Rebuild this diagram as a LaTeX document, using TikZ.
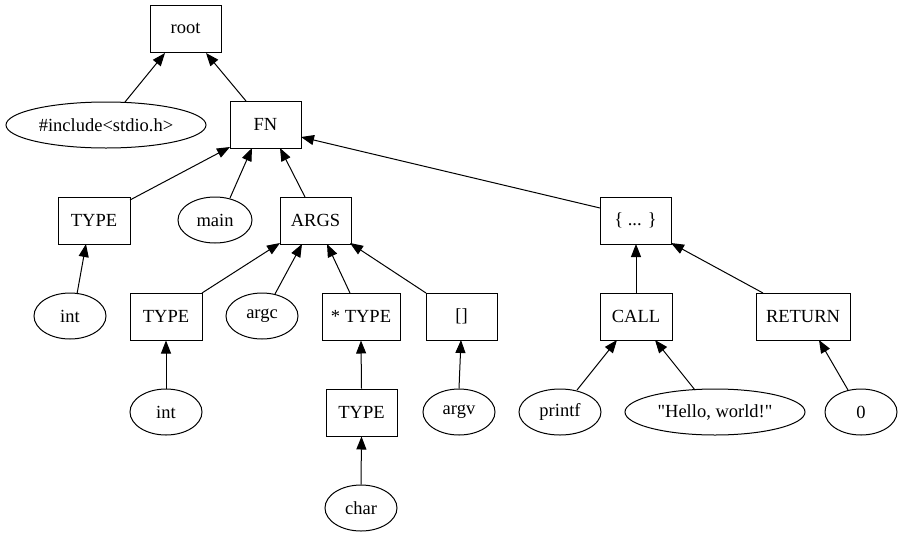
\documentclass[tikz,border=0pt]{standalone}
\usepackage{fontspec}
\setmainfont{Liberation Serif}[Ligatures=TeXOff]
\usetikzlibrary{shapes.geometric,arrows.meta,calc}
\begin{document}
\begin{tikzpicture}[x=1pt,y=-1pt,
  every node/.style={font=\fontsize{18.5}{20}\selectfont, inner sep=0pt, line width=1pt},
  box/.style={draw, rectangle, minimum height=47pt, minimum width=71pt},
  oval/.style={draw, ellipse, minimum height=46pt, minimum width=72pt},
  edge/.style={line width=1pt, -{Triangle[length=13pt,width=10pt]}}]
\useasboundingbox[fill=white] (0,0) rectangle (903,539);
\node[box] (root) at (185.5,28.5) {root};
\node[oval, minimum width=200pt] (inc) at (106,125) {\#include<stdio.h>};
\node[box] (fn) at (265.5,124.5) {FN};
\node[box, minimum width=72pt] (type1) at (94,220.5) {TYPE};
\node[oval, minimum width=74pt] (main) at (215,220) {main};
\node[box] (args) at (315.5,220.5) {ARGS};
\node[box] (body) at (635.5,220.5) {\{ ... \}};
\node[oval] (int1) at (70,316) {int};
\node[box, minimum width=72pt] (type2) at (166,316.5) {TYPE};
\node[oval] (argc) at (262,316) {argc};
\node[box, minimum width=78pt] (ptype) at (361,316.5) {* TYPE};
\node[box] (arr) at (461.5,316.5) {[]};
\node[box, minimum width=72pt] (call) at (636,316.5) {CALL};
\node[box, minimum width=94pt] (ret) at (803,316.5) {RETURN};
\node[oval] (int2) at (166,412) {int};
\node[box] (type3) at (361.5,412.5) {TYPE};
\node[oval] (argv) at (459,412) {argv};
\node[oval, minimum width=82pt] (printf) at (560,412) {printf};
\node[oval, minimum width=180pt] (hello) at (715,412) {"Hello, world!"};
\node[oval] (zero) at (861,412) {0};
\node[oval] (char) at (361,508) {char};

\draw[edge] ($(inc)+(19,-23)$) -- ($(root)+(-20.5,24.5)$);
\draw[edge] ($(fn)+(-19.5,-23.5)$) -- ($(root)+(20.5,24.5)$);
\draw[edge] ($(type1)+(36,-20.5)$) -- ($(fn)+(-35.5,22.5)$);
\draw[edge] ($(main)+(15,-22)$) -- ($(fn)+(-13.5,23.5)$);
\draw[edge] ($(args)+(-10.5,-23.5)$) -- ($(fn)+(14.5,23.5)$);
\draw[edge] ($(body)+(-35.5,-12.5)$) -- ($(fn)+(35.5,12.5)$);
\draw[edge] ($(int1)+(7,-22)$) -- ($(type1)+(-8,23.5)$);
\draw[edge] ($(type2)+(36,-23.5)$) -- ($(args)+(-35.5,22.5)$);
\draw[edge] ($(argc)+(13,-22)$) -- ($(args)+(-13.5,23.5)$);
\draw[edge] ($(ptype)+(-11,-23.5)$) -- ($(args)+(11.5,23.5)$);
\draw[edge] ($(arr)+(-35.5,-23.5)$) -- ($(args)+(34.5,22.5)$);
\draw[edge] (int2.north) -- (type2.south);
\draw[edge] (type3.north) -- (ptype.south);
\draw[edge] (argv.north) -- ($(arr)+(-0.5,23.5)$);
\draw[edge] ($(call)+(0,-23.5)$) -- ($(body)+(0.5,23.5)$);
\draw[edge] ($(ret)+(-40,-23.5)$) -- ($(body)+(35.5,22.5)$);
\draw[edge] ($(printf)+(17,-22)$) -- ($(call)+(-19,23.5)$);
\draw[edge] ($(hello)+(-20,-22)$) -- ($(call)+(19,23.5)$);
\draw[edge] ($(zero)+(-13,-22)$) -- ($(ret)+(16,23.5)$);
\draw[edge] (char.north) -- (type3.south);
\end{tikzpicture}
\end{document}
